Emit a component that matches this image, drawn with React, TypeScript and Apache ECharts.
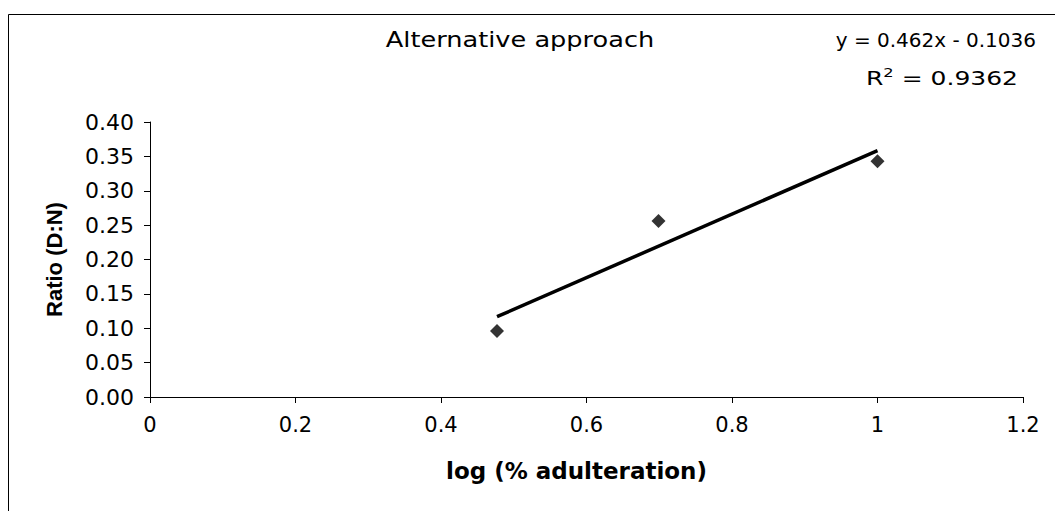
import React, { useEffect, useRef } from "react";
import * as echarts from "echarts";

const logAdulteration = [0.477, 0.699, 1.0];
const ratioDN = [0.096, 0.256, 0.343];
const slope = 0.462;
const intercept = -0.1036;
const rSquared = 0.9362;
const chartTitle = "Alternative approach";
const xAxisName = "log (% adulteration)";
const yAxisName = "Ratio (D:N)";

const FONT = "'Liberation Sans', Arial, sans-serif";
const WIDE = "'DejaVu Sans', sans-serif";

export default function App() {
  const ref = useRef<HTMLDivElement>(null);
  useEffect(() => {
    if (!ref.current) return;
    const chart = echarts.init(ref.current, undefined, { renderer: "svg" });
    const points = logAdulteration.map((x, i) => [x, ratioDN[i]]);
    const xMin = Math.min(...logAdulteration);
    const xMax = Math.max(...logAdulteration);
    const trend = [
      [xMin, slope * xMin + intercept],
      [xMax, slope * xMax + intercept],
    ];
    chart.setOption({
      animation: false,
      backgroundColor: "#ffffff",
      textStyle: { fontFamily: FONT },
      grid: { left: 142, right: 40, top: 114, bottom: 114, containLabel: false },
      xAxis: {
        type: "value",
        min: 0,
        max: 1.2,
        interval: 0.2,
        name: xAxisName,
        nameLocation: "middle",
        nameGap: 62,
        nameTextStyle: {
          fontFamily: WIDE,
          fontSize: 23,
          fontWeight: "bold",
          color: "#000",
          padding: [0, 20, 0, 0],
        },
        axisLine: { show: true, onZero: false, lineStyle: { color: "#000", width: 1 } },
        axisTick: { show: true, inside: false, length: 6, lineStyle: { color: "#000" } },
        axisLabel: { fontFamily: WIDE, fontSize: 21, color: "#000", margin: 17 },
        splitLine: { show: false },
      },
      yAxis: {
        type: "value",
        min: 0,
        max: 0.4,
        interval: 0.05,
        name: yAxisName,
        nameLocation: "middle",
        nameGap: 85,
        nameRotate: 90,
        nameTextStyle: { fontFamily: FONT, fontSize: 22, fontWeight: "bold", color: "#000" },
        axisLine: { show: true, lineStyle: { color: "#000", width: 1 } },
        axisTick: { show: true, inside: false, length: 6, lineStyle: { color: "#000" } },
        axisLabel: {
          fontFamily: WIDE,
          fontSize: 22,
          color: "#000",
          margin: 16,
          formatter: (v: number) => v.toFixed(2),
        },
        splitLine: { show: false },
      },
      series: [
        {
          type: "line",
          data: trend,
          showSymbol: false,
          symbol: "none",
          lineStyle: { color: "#000", width: 3.5 },
          z: 2,
        },
        {
          type: "scatter",
          data: points,
          symbol: "diamond",
          symbolSize: 14,
          itemStyle: { color: "#000" },
          z: 3,
        },
      ],
      graphic: [
        {
          type: "rect",
          shape: { x: 0.5, y: 6.5, width: 1200, height: 800 },
          style: { fill: "none", stroke: "#000", lineWidth: 1 },
          silent: true,
          z: -10,
        },
        {
          type: "text",
          x: 512,
          y: 32,
          scaleX: 1.22,
          style: {
            text: chartTitle,
            font: `21px ${WIDE}`,
            fill: "#000",
            textAlign: "center",
            textVerticalAlign: "middle",
          },
        },
        {
          type: "text",
          x: 1028,
          y: 32,
          style: {
            text: `y = ${slope}x - ${Math.abs(intercept)}`,
            font: `20px ${WIDE}`,
            fill: "#000",
            textAlign: "right",
            textVerticalAlign: "middle",
          },
        },
        {
          type: "text",
          x: 1010,
          y: 69,
          scaleX: 1.25,
          style: {
            text: `{r|R}{s|2}{r| = ${rSquared}}`,
            textAlign: "right",
            textVerticalAlign: "middle",
            rich: {
              r: { font: `20px ${WIDE}`, fill: "#000", verticalAlign: "bottom" },
              s: { font: `13px ${WIDE}`, fill: "#000", verticalAlign: "top", padding: [0, 0, 9, 0] },
            },
          },
        },
      ],
    });
    return () => chart.dispose();
  }, []);
  return <div ref={ref} style={{ width: 1055, height: 503 }} />;
}
